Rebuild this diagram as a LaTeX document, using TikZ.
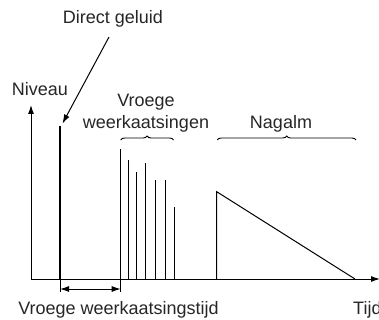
\documentclass[tikz,border=0pt]{standalone}
\usepackage{fontspec}
\setmainfont{Liberation Sans}
\usetikzlibrary{arrows.meta,decorations.pathreplacing}
\begin{document}
\begin{tikzpicture}[x=1pt,y=-1pt,
  lbl/.style={font=\fontsize{18}{20}\selectfont, text=black!85, inner sep=0pt, anchor=base},
  axis/.style={line width=1pt, -{Latex[length=9pt,width=6pt]}},
  refl/.style={line width=1.2pt},
  brc/.style={decorate, decoration={brace, amplitude=4pt}, line width=0.9pt},
  ptr/.style={line width=1pt, -{Latex[length=9pt,width=6pt]}},
  span/.style={line width=1pt, {Latex[length=9pt,width=6pt]}-{Latex[length=9pt,width=6pt]}}]
\useasboundingbox (0,0) rectangle (379,320);
% axes
\coordinate (O) at (31,279);
\coordinate (ytop) at (31,105);
\coordinate (xend) at (380,279);
\draw[axis] (O) -- (ytop);
\draw[axis] (O) -- (xend);
% direct sound
\coordinate (d0) at (60,279);
\coordinate (d1) at (60,126);
\draw[line width=2pt] (d0) -- (d1);
% early reflections
\foreach \i/\x/\t in {1/120.7/149, 2/128.3/160, 3/136.5/171.7, 4/145.8/162.7, 5/155.5/180.3, 6/165.3/180.3, 7/174.2/206.7}{
  \coordinate (r\i b) at (\x,279);
  \coordinate (r\i t) at (\x,\t);
  \draw[refl] (r\i b) -- (r\i t);
}
% reverb
\coordinate (n0) at (216.7,279);
\coordinate (n1) at (216.7,191.7);
\coordinate (n2) at (355,279);
\draw[line width=1pt] (n0) -- (n1) -- (n2);
% braces
\coordinate (b1a) at (120.7,140);
\coordinate (b1b) at (173.5,140);
\coordinate (b2a) at (217.3,140);
\coordinate (b2b) at (356,140);
\draw[brc] (b1a) -- (b1b);
\draw[brc] (b2a) -- (b2b);
% ticks and span arrow
\coordinate (t1) at (60,292);
\coordinate (t2) at (120.7,292);
\draw[line width=1pt] (d0) -- (t1);
\draw[line width=1pt] (r1b) -- (t2);
\coordinate (s1) at (60,289);
\coordinate (s2) at (120.7,289);
\draw[span] (s1) -- (s2);
% labels
\node[lbl] (direct) at (113,24) {Direct geluid};
\node[lbl] (niveau) at (40,96) {Niveau};
\node[lbl] (vroege) at (146,106.7) {Vroege};
\node[lbl] (weerk) at (146,128.3) {weerkaatsingen};
\node[lbl] (nagalm) at (281,128.3) {Nagalm};
\node[lbl] (vwt) at (118.5,314.3) {Vroege weerkaatsingstijd};
\node[lbl, anchor=base west] (tijd) at (353,314.3) {Tijd};
% pointer
\coordinate (p0) at (109,37);
\coordinate (p1) at (62.5,123.5);
\draw[ptr] (p0) -- (p1);
\end{tikzpicture}
\end{document}
